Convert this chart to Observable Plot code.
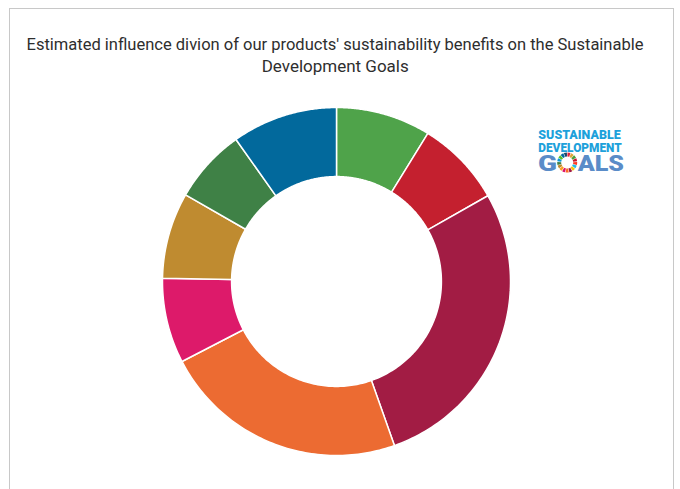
<!DOCTYPE html>
<html>
<head>
<meta charset="utf-8">
<script src="https://cdn.jsdelivr.net/npm/d3@7"></script>
<script src="https://cdn.jsdelivr.net/npm/@observablehq/plot@0.6"></script>
<style>
  html, body { margin: 0; padding: 0; background: #fff; width: 680px; height: 489px; overflow: hidden; }
  #frame { position: absolute; left: 9px; top: 8px; width: 665px; height: 500px; border: 1px solid #c8c8c8; box-sizing: border-box; }
  #title { position: absolute; left: 0; top: 34px; width: 671px; text-align: center; font-family: "Roboto", "Noto Sans", sans-serif; font-size: 16px; color: #2e2e2e; line-height: 22px; }
  #title span { display: inline-block; transform-origin: center; white-space: nowrap; }
  #chart { position: absolute; left: 160.5px; top: 106px; }
  #chart svg { overflow: visible; }
  #logo { position: absolute; left: 525px; top: 112px; overflow: visible; }
</style>
</head>
<body>
<div id="frame"></div>
<div id="title"><span id="t1">Estimated influence divion of our products' sustainability benefits on the Sustainable</span><br><span id="t2">Development Goals</span></div>
<div id="chart"></div>
<svg id="logo" width="110" height="75" viewBox="-5 -8 110 75">
  <text font-family="Roboto, sans-serif" font-weight="900"><tspan x="8.3" y="19.3" font-size="13.5" fill="#1DA1DB" textLength="82.4" lengthAdjust="spacingAndGlyphs">SUSTAINABLE</tspan><tspan x="8.3" y="31.7" font-size="13.5" fill="#1DA1DB" textLength="83.4" lengthAdjust="spacingAndGlyphs">DEVELOPMENT</tspan><tspan x="8" y="50.7" font-size="22.5" fill="#5A8CC8" textLength="19" lengthAdjust="spacingAndGlyphs">G</tspan><tspan x="47.7" y="50.7" font-size="22.5" fill="#5A8CC8" textLength="46.3" lengthAdjust="spacingAndGlyphs">ALS</tspan></text>
  <g id="ring" transform="translate(37.2,42.5)"></g>
</svg>
<script>
// Data
const goals = ["SDG 3", "SDG 4", "SDG 8", "SDG 9", "SDG 10", "SDG 12", "SDG 13", "SDG 16"];
const shares = [8.8, 8.0, 27.8, 22.8, 7.9, 8.0, 6.9, 9.8];
const colors = ["#4FA34A", "#C4202F", "#A21C44", "#EC6B32", "#DD1A6A", "#BF8B30", "#3F8146", "#02699C"];
const innerRatio = 0.603;

// Build slice outlines from the pie layout
const arcs = d3.pie().sort(null).value(d => d)(shares);
const pts = [];
arcs.forEach((p, i) => {
  const n = 80;
  for (let k = 0; k <= n; k++) {
    const a = p.startAngle + (p.endAngle - p.startAngle) * k / n;
    pts.push({goal: goals[i], x: Math.sin(a), y: Math.cos(a)});
  }
  for (let k = n; k >= 0; k--) {
    const a = p.startAngle + (p.endAngle - p.startAngle) * k / n;
    pts.push({goal: goals[i], x: innerRatio * Math.sin(a), y: innerRatio * Math.cos(a)});
  }
});

const chart = Plot.plot({
  width: 350,
  height: 350,
  margin: 1,
  x: {domain: [-1, 1], axis: null},
  y: {domain: [-1, 1], axis: null},
  color: {domain: goals, range: colors},
  marks: [
    Plot.line(pts, {x: "x", y: "y", z: "goal", fill: "goal", stroke: "white", strokeWidth: 1.5, curve: "linear-closed"})
  ]
});
document.getElementById("chart").appendChild(chart);

// SDG logo ring
const sdgColors = ["#E5243B","#DDA63A","#4C9F38","#C5192D","#FF3A21","#26BDE2","#FCC30B","#A21942","#FD6925","#DD1367","#FD9D24","#BF8B2E","#3F7E44","#0A97D9","#56C02B","#00689D","#19486A"];
const ringArc = d3.arc().innerRadius(6).outerRadius(10);
const ring = d3.select("#ring");
sdgColors.forEach((c, i) => {
  const s = i * 2 * Math.PI / 17;
  ring.append("path").attr("d", ringArc({startAngle: s + 0.03, endAngle: s + 2 * Math.PI / 17 - 0.03})).attr("fill", c);
});

// Fit title lines to measured widths
function fit(id, target) {
  const el = document.getElementById(id);
  const w = el.getBoundingClientRect().width;
  el.style.transform = `scaleX(${target / w})`;
}
fit("t1", 617);
fit("t2", 147);
</script>
</body>
</html>
